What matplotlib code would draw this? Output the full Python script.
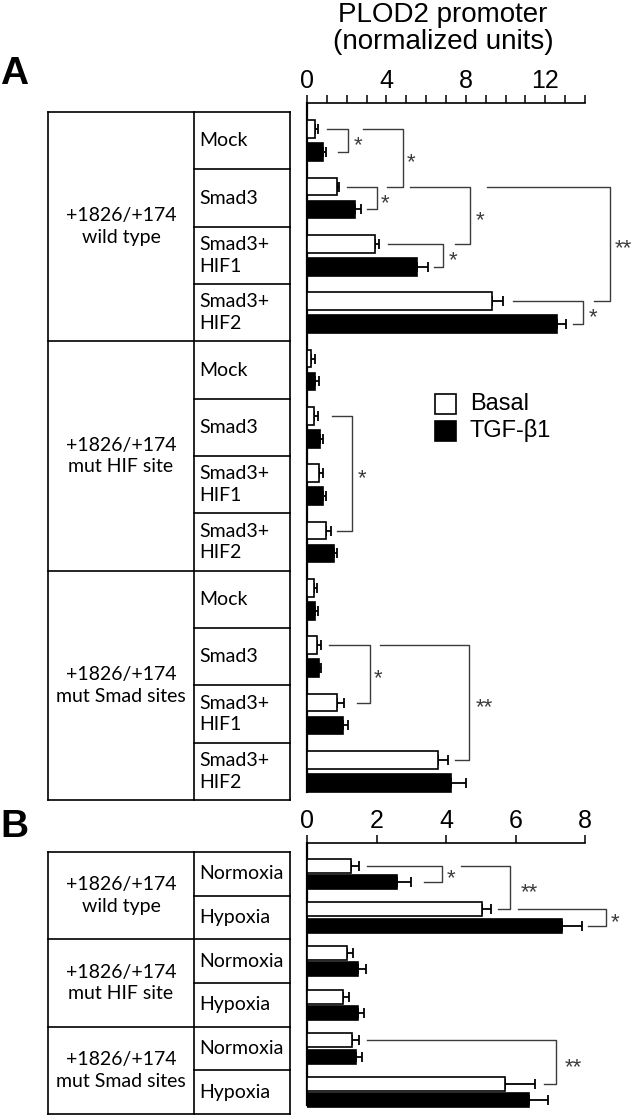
import numpy as np
import matplotlib
matplotlib.use("Agg")
import matplotlib.pyplot as plt
from matplotlib.patches import Rectangle

# ---------------- data ----------------
A_groups = ['+1826/+174\nwild type', '+1826/+174\nmut HIF site', '+1826/+174\nmut Smad sites']
A_conditions = ['Mock', 'Smad3', 'Smad3+\nHIF1', 'Smad3+\nHIF2']
A_basal = [0.40, 1.50, 3.43, 9.31, 0.20, 0.37, 0.62, 0.96, 0.35, 0.52, 1.50, 6.62]
A_basal_err = [0.15, 0.10, 0.20, 0.54, 0.20, 0.20, 0.20, 0.23, 0.17, 0.17, 0.37, 0.46]
A_tgf = [0.80, 2.42, 5.56, 12.59, 0.40, 0.66, 0.79, 1.36, 0.40, 0.62, 1.83, 7.25]
A_tgf_err = [0.16, 0.30, 0.51, 0.47, 0.20, 0.13, 0.17, 0.17, 0.15, 0.08, 0.25, 0.77]
A_ticks = [0, 4, 8, 12]

B_groups = ['+1826/+174\nwild type', '+1826/+174\nmut HIF site', '+1826/+174\nmut Smad sites']
B_conditions = ['Normoxia', 'Hypoxia']
B_basal = [1.27, 5.03, 1.15, 1.05, 1.29, 5.70]
B_basal_err = [0.23, 0.27, 0.16, 0.17, 0.21, 0.86]
B_tgf = [2.60, 7.33, 1.48, 1.48, 1.41, 6.40]
B_tgf_err = [0.39, 0.57, 0.22, 0.15, 0.17, 0.54]
B_ticks = [0, 2, 4, 6, 8]

legend_labels = ['Basal', 'TGF-β1']
axis_title = 'PLOD2 promoter\n(normalized units)'

# significance brackets: (row_a, side_a, row_b, side_b, x_start_a, x_start_b, x_vertical, label, x_label)
A_sig = [
    (0, 0, 0, 1, 1.0, 1.57, 2.08, '*', 2.55),
    (0, 0, 1, 0, 2.84, 4.05, 4.83, '*', 5.25),
    (1, 0, 1, 1, 2.0, 3.0, 3.5, '*', 3.95),
    (1, 0, 2, 0, 5.2, 7.46, 8.22, '*', 8.7),
    (2, 0, 2, 1, 4.1, 6.39, 6.86, '*', 7.35),
    (1, 0, 3, 0, 9.07, 14.47, 15.28, '**', 15.95),
    (3, 0, 3, 1, 10.38, 13.4, 13.91, '*', 14.4),
    (5, 0, 7, 0, 1.24, 1.5, 2.25, '*', 2.76),
    (9, 0, 10, 0, 1.11, 2.51, 3.18, '*', 3.6),
    (9, 0, 11, 0, 3.68, 7.46, 8.17, '**', 8.95),
]
B_sig = [
    (0, 0, 0, 1, 1.72, 3.37, 3.88, '*', 4.15),
    (0, 0, 1, 0, 4.43, 5.51, 5.84, '**', 6.39),
    (1, 0, 1, 1, 6.08, 8.09, 8.6, '*', 8.85),
    (4, 0, 5, 0, 1.72, 6.82, 7.16, '**', 7.65),
]

# ---------------- layout ----------------
W, H = 633, 1116
fig = plt.figure(figsize=(W / 100, H / 100), dpi=100)
AX_FONT = 'Liberation Sans'
TAB_FONT = 'Lato'
GRAY = '#3c3c3c'


def fbox(x0, y0, x1, y1):
    return [x0 / W, 1 - y1 / H, (x1 - x0) / W, (y1 - y0) / H]


def draw_panel(ax_box, nrows, row_top, row_h, off, bar_h, basal, berr, tgf, terr,
               xmax, ticks, minor, sig, spine_bottom):
    x0, ytop, x1, ybot = ax_box
    ax = fig.add_axes(fbox(x0, ytop, x1, ybot))
    ax.patch.set_visible(False)
    top_lim = -(row_top - ytop) / row_h
    bot_lim = (ybot - row_top) / row_h
    ax.set_xlim(0, xmax)
    ax.set_ylim(bot_lim, top_lim)
    rows = np.arange(nrows) + 0.5
    yw = rows - off
    yb = rows + off
    ax.barh(yw, basal, height=bar_h, color='white', edgecolor='black', linewidth=1.2, zorder=3)
    ax.barh(yb, tgf, height=bar_h, color='black', edgecolor='black', linewidth=1.2, zorder=3)
    z = np.zeros(nrows)
    ax.errorbar(basal, yw, xerr=[z, berr], fmt='none', ecolor='black', elinewidth=1.3,
                capsize=3.6, capthick=1.3, zorder=2)
    ax.errorbar(tgf, yb, xerr=[z, terr], fmt='none', ecolor='black', elinewidth=1.3,
                capsize=3.6, capthick=1.3, zorder=2)
    for s in ['right', 'bottom']:
        ax.spines[s].set_visible(False)
    ax.spines['top'].set_linewidth(1.2)
    ax.spines['left'].set_linewidth(1.6)
    ax.spines['left'].set_bounds(top_lim, spine_bottom)
    ax.xaxis.tick_top()
    ax.set_xticks(ticks)
    ax.set_xticklabels([str(t) for t in ticks], fontfamily=AX_FONT)
    if minor is not None:
        ax.set_xticks(minor, minor=True)
    ax.tick_params(axis='x', which='both', direction='out', length=6, width=1.1,
                   top=True, bottom=False, labeltop=True, labelbottom=False, pad=1, labelsize=18)
    ax.set_yticks([])
    for (ra, sa, rb, sb, xa, xb, xv, lab, xl) in sig:
        ya = rows[ra] + (off if sa else -off)
        ybb = rows[rb] + (off if sb else -off)
        ax.plot([xa, xv, xv, xb], [ya, ya, ybb, ybb], color=GRAY, lw=1.0, clip_on=False, zorder=1)
        ax.annotate(lab, xy=(xl, (ya + ybb) / 2), xytext=(0, -3.8), textcoords='offset points',
                    ha='center', va='center', fontsize=16, color=GRAY, fontfamily=AX_FONT,
                    annotation_clip=False)
    return ax


# ---- Panel A ----
rowA_top, rowA_h = 112, (800 - 112) / 12
axA = draw_panel((307, 103, 585, 800), 12, rowA_top, rowA_h, 0.2, 0.31,
                 A_basal, A_basal_err, A_tgf, A_tgf_err, 14, A_ticks, np.arange(0, 15),
                 A_sig, 11.86)

# ---- Panel B ----
rowB_top, rowB_h = 852, (1114 - 852) / 6
axB = draw_panel((307, 843, 585, 1114), 6, rowB_top, rowB_h, 0.185, 0.32,
                 B_basal, B_basal_err, B_tgf, B_tgf_err, 8, B_ticks, None,
                 B_sig, 5.8)

# overlay axes in pixel coordinates for table / labels / legend
ov = fig.add_axes([0, 0, 1, 1])
ov.set_xlim(0, W)
ov.set_ylim(H, 0)
ov.axis('off')
ov.set_zorder(5)

# ---- title ----
fig.text(443 / W, 1 - 2 / H, axis_title, ha='center', va='top', fontsize=20,
         fontfamily=AX_FONT, linespacing=1.05)

# ---- panel letters ----
fig.text(0 / W, 1 - 74 / H, 'A', ha='left', va='center', fontsize=28, fontweight='bold',
         fontfamily=AX_FONT)
fig.text(0 / W, 1 - 827 / H, 'B', ha='left', va='center', fontsize=28, fontweight='bold',
         fontfamily=AX_FONT)

# ---- legend ----
for i, (lab, fc) in enumerate(zip(legend_labels, ['white', 'black'])):
    y0 = 394 + i * 26.5
    ov.add_patch(Rectangle((435, y0), 20.5, 20, facecolor=fc, edgecolor='black', lw=1.2))
    ov.text(470, y0 + 10, lab, ha='left', va='center', fontsize=17, fontfamily=AX_FONT)


# ---- tables ----
def draw_table(top, row_h, groups, conds, xl=48, xm=194, xr=290):
    n = len(groups) * len(conds)
    bottom = top + n * row_h
    lw = 1.2
    ov.plot([xl, xr], [top, top], color='black', lw=lw)
    ov.plot([xl, xl], [top, bottom], color='black', lw=lw)
    ov.plot([xm, xm], [top, bottom], color='black', lw=lw)
    ov.plot([xr, xr], [top, bottom], color='black', lw=lw)
    k = len(conds)
    for g, gname in enumerate(groups):
        gtop = top + g * k * row_h
        gbot = gtop + k * row_h
        ov.plot([xl, xr], [gbot, gbot], color='black', lw=lw)
        ov.text((xl + xm) / 2, (gtop + gbot) / 2, gname, ha='center', va='center',
                fontsize=14, fontfamily=TAB_FONT, linespacing=1.35)
        for c, cname in enumerate(conds):
            rtop = gtop + c * row_h
            if c > 0:
                ov.plot([xm, xr], [rtop, rtop], color='black', lw=lw)
            ov.text(xm + 5, rtop + row_h / 2, cname, ha='left', va='center',
                    fontsize=14, fontfamily=TAB_FONT, linespacing=1.35)


draw_table(rowA_top, rowA_h, A_groups, A_conditions)
draw_table(rowB_top, rowB_h, B_groups, B_conditions)

fig.savefig('out.png', dpi=100)
